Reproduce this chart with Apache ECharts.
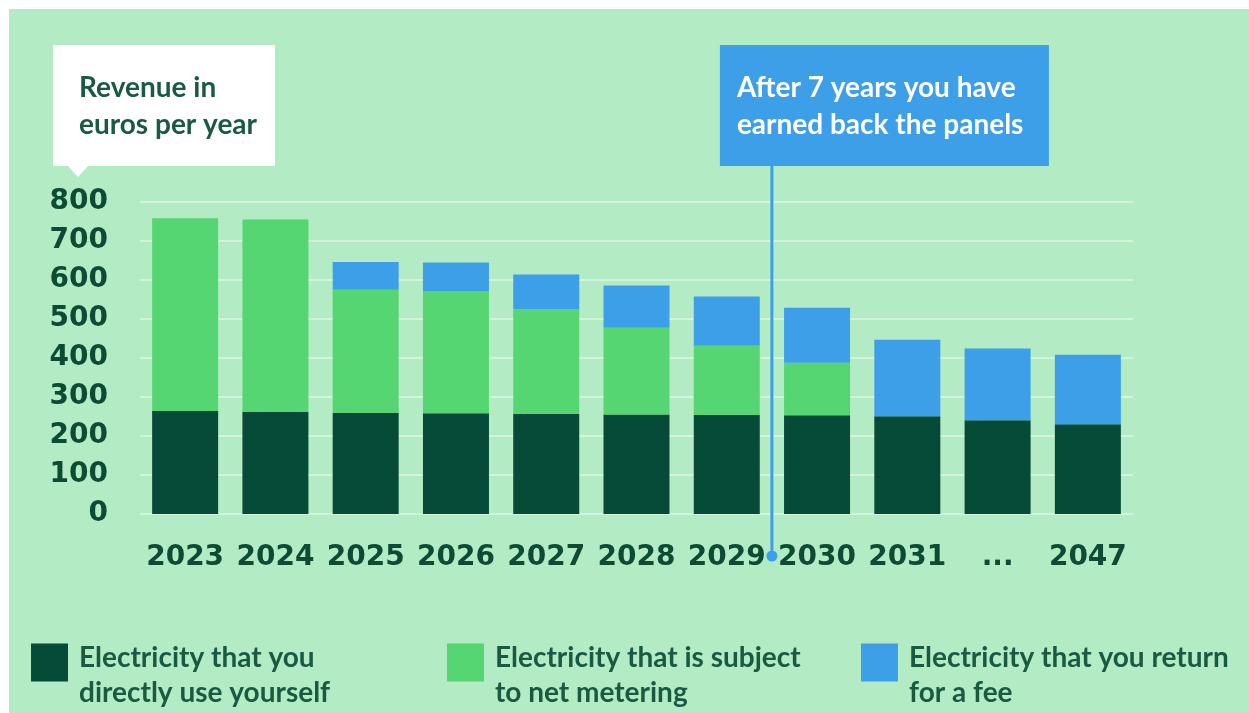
<!DOCTYPE html>
<html><head><meta charset="utf-8">
<script src="https://cdn.jsdelivr.net/npm/echarts@6/dist/echarts.min.js"></script>
<style>html,body{margin:0;padding:0;background:#fff}#c{width:1249px;height:713px}</style>
</head><body><div id="c"></div>
<script>
const categories = ['2023','2024','2025','2026','2027','2028','2029','2030','2031','...','2047'];
const directUse   = [264, 261, 259, 258, 256, 255, 254, 253, 250, 240, 230];
const netMetering = [493, 493, 315, 313, 268, 222, 177, 134, 0, 0, 0];
const returnFee   = [0, 0, 71, 73, 89, 108, 126, 141, 196, 184, 178];
const seriesNames = ['Electricity that you directly use yourself', 'Electricity that is subject to net metering', 'Electricity that you return for a fee'];
const legendLabels = ['Electricity that you\ndirectly use yourself', 'Electricity that is subject\nto net metering', 'Electricity that you return\nfor a fee'];
const yAxisTitle = 'Revenue in\neuros per year';
const noteText = 'After 7 years you have\nearned back the panels';

const C_DARK = '#054b37', C_GREEN = '#55d672', C_BLUE = '#3e9fe9';
const TXT = '#0d4b35';

const chart = echarts.init(document.getElementById('c'), null, {renderer: 'canvas'});

// square swatch drawn in the upper part of a taller icon box, so the two-line label hangs below it
const SWATCH = 'path://M0,0H37V38H0Z M0,63L0.01,63';

function legendCfg(i, left) {
  return {
    left: left, top: 640, orient: 'horizontal', padding: 0,
    itemWidth: 37, itemHeight: 63, icon: SWATCH,
    data: [seriesNames[i]],
    formatter: () => legendLabels[i],
    textStyle: {fontFamily: 'Lato', fontWeight: 'bold', fontSize: 28, lineHeight: 35, color: '#1a5a43', padding: [0, 0, 0, 6]},
    selectedMode: false
  };
}

const option = {
  animation: false,
  backgroundColor: '#ffffff',
  grid: {left: 140, right: 116, top: 201.5, bottom: 199, containLabel: false},
  legend: [legendCfg(0, 31), legendCfg(1, 447), legendCfg(2, 861)],
  xAxis: {
    type: 'category', data: categories,
    axisLine: {show: false}, axisTick: {show: false},
    axisLabel: {color: TXT, fontFamily: 'DejaVu Sans', fontWeight: 'bold', fontSize: 28, margin: 30, interval: 0}
  },
  yAxis: {
    type: 'value', min: 0, max: 800, interval: 100,
    axisLine: {show: false}, axisTick: {show: false},
    axisLabel: {color: TXT, fontFamily: 'DejaVu Sans', fontWeight: 'bold', fontSize: 28, margin: 32},
    splitLine: {lineStyle: {color: 'rgba(255,255,255,0.55)', width: 1.5}}
  },
  series: [
    {name: seriesNames[0], type: 'bar', stack: 'rev', data: directUse, barWidth: 66, itemStyle: {color: C_DARK}},
    {name: seriesNames[1], type: 'bar', stack: 'rev', data: netMetering, barWidth: 66, itemStyle: {color: C_GREEN}},
    {name: seriesNames[2], type: 'bar', stack: 'rev', data: returnFee, barWidth: 66, itemStyle: {color: C_BLUE}}
  ]
};
chart.setOption(option);

// Annotation position: boundary between 2029 and 2030
const xa = chart.convertToPixel({xAxisIndex: 0}, '2029');
const xb = chart.convertToPixel({xAxisIndex: 0}, '2030');
const lineX = (xa + xb) / 2;

chart.setOption({
  graphic: [
    {type: 'rect', z: -100, silent: true, shape: {x: 9, y: 9, width: 1240, height: 704}, style: {fill: '#b3ebc4'}},
    {type: 'rect', z: 10, shape: {x: 53, y: 45, width: 222, height: 121}, style: {fill: '#ffffff'}},
    {type: 'polygon', z: 10, shape: {points: [[67, 165], [89, 165], [78, 177]]}, style: {fill: '#ffffff'}},
    {type: 'text', z: 11, left: 79, top: 69, style: {text: yAxisTitle, fill: '#1a5a43', font: 'bold 28px Lato', lineHeight: 37}},
    {type: 'line', z: 10, shape: {x1: lineX, y1: 166, x2: lineX, y2: 556}, style: {stroke: C_BLUE, lineWidth: 3}},
    {type: 'circle', z: 10, shape: {cx: lineX, cy: 556, r: 5.5}, style: {fill: C_BLUE}},
    {type: 'rect', z: 10, shape: {x: lineX - 52, y: 45, width: 329, height: 121}, style: {fill: C_BLUE}},
    {type: 'text', z: 11, left: lineX - 35, top: 69, style: {text: noteText, fill: '#ffffff', font: 'bold 28px Lato', lineHeight: 37}}
  ]
});
</script></body></html>
